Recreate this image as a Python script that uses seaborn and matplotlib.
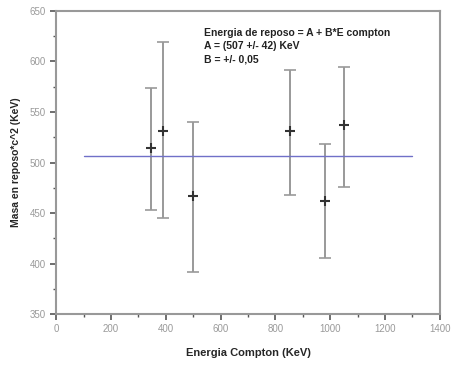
import matplotlib
matplotlib.use("Agg")
import matplotlib.pyplot as plt
from matplotlib.ticker import MultipleLocator
import seaborn as sns
import pandas as pd

# Data
energy = [345, 389, 498, 853, 982, 1050]
mass = [514, 531, 467, 531, 462, 537]
err_low = [61, 86, 75, 63, 57, 61]
err_high = [60, 88, 73, 61, 56, 58]
fit_x = [100, 1300]
fit_y = [506, 506]
annotation = ["Energia de reposo = A + B*E compton",
              "A = (507 +/- 42) KeV",
              "B = +/- 0,05"]

sns.set_style("white")
plt.rcParams['font.family'] = ['Liberation Sans', 'DejaVu Sans']

df = pd.DataFrame({"energy": energy, "mass": mass})
fit = pd.DataFrame({"x": fit_x, "y": fit_y})

fig = plt.figure(figsize=(4.53, 3.66), dpi=100)
ax = fig.add_axes([0.124, 0.142, 0.847, 0.828])

ax.errorbar(energy, mass, yerr=[err_low, err_high], fmt="none",
            ecolor="#999999", elinewidth=1.4, capsize=4, capthick=1.2, zorder=2)
sns.lineplot(data=fit, x="x", y="y", ax=ax, color="#7070c8", linewidth=1.0, zorder=3)
sns.scatterplot(data=df, x="energy", y="mass", ax=ax, marker="+", s=60,
                color="#333333", linewidth=1.5, zorder=4)

ax.set_xlim(0, 1400)
ax.set_ylim(350, 650)
ax.xaxis.set_major_locator(MultipleLocator(200))
ax.xaxis.set_minor_locator(MultipleLocator(100))
ax.yaxis.set_major_locator(MultipleLocator(50))
ax.yaxis.set_minor_locator(MultipleLocator(25))
ax.tick_params(which="major", direction="out", length=4, width=1.2, color="#555555",
               labelsize=7, labelcolor="#9a9a9a", bottom=True, left=True)
ax.tick_params(which="minor", direction="out", length=2, width=1.0, color="#555555",
               bottom=True, left=True)
for s in ax.spines.values():
    s.set_color("#999999")
    s.set_linewidth(1.5)

ax.set_xlabel("Energia Compton (KeV)", fontsize=8, fontweight="bold", labelpad=10)
ax.set_ylabel("Masa en reposo*c^2 (KeV)", fontsize=7.5, fontweight="bold", labelpad=6)

ax.text(0.385, 0.945, "\n".join(annotation), transform=ax.transAxes,
        fontsize=7.5, fontweight="bold", va="top", ha="left", linespacing=1.45,
        color="#222222")

fig.savefig("out.png", dpi=100)
